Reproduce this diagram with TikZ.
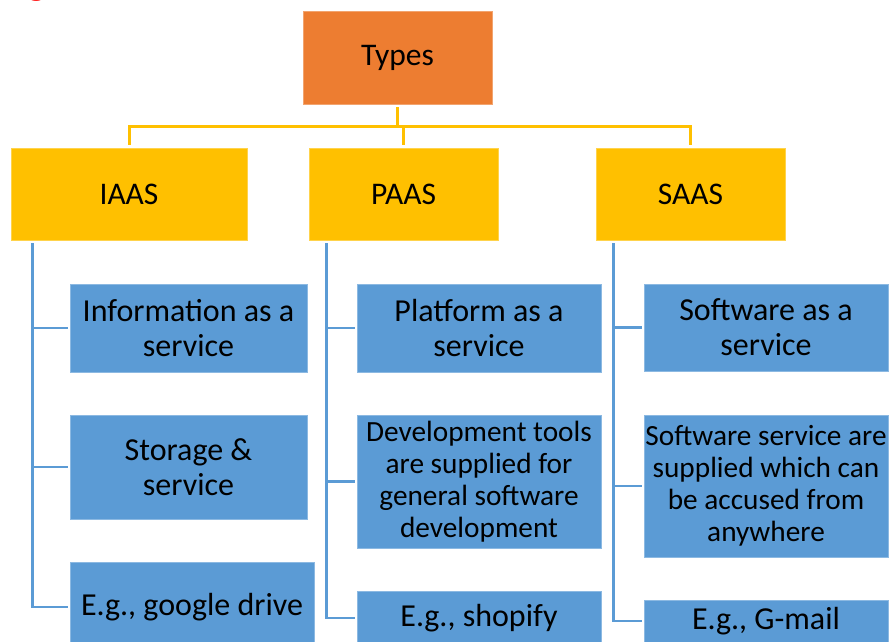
\documentclass[tikz,border=0pt]{standalone}
\usepackage{fontspec}
\setmainfont{Carlito}
\begin{document}
\begin{tikzpicture}[x=1pt,y=-1pt,
  typebox/.style={fill=orangeC,draw=orangeC!70!white,line width=0.8pt,inner sep=0pt,font=\fontsize{31.5}{35}\selectfont,text=black},
  catbox/.style={fill=yellowC,draw=yellowC!70!white,line width=0.8pt,inner sep=0pt,font=\fontsize{31.5}{35}\selectfont,text=black,minimum height=92pt},
  itembox/.style={fill=blueC,draw=blueC!70!white,line width=0.8pt,inner sep=0pt,align=center,font=\fontsize{32}{35}\selectfont,text=black,minimum width=244pt},
  smallitem/.style={itembox,font=\fontsize{29.3}{32}\selectfont},
  yline/.style={draw=yellowC,line width=3pt,shorten <=3pt,shorten >=3pt},
  bline/.style={draw=blueC,line width=2.6pt,shorten <=3pt,shorten >=2pt}]
\definecolor{orangeC}{HTML}{ED7D31}
\definecolor{yellowC}{HTML}{FFC000}
\definecolor{blueC}{HTML}{5B9BD5}
\useasboundingbox (0,0) rectangle (893,641);
\node[anchor=base west,text=red,font=\fontsize{40}{40}\selectfont,inner sep=0pt] (cut) at (27,-5.5) {g};
% top
\node[typebox,minimum width=189pt,minimum height=93pt] (types) at (397.5,57.5) {Types};
% categories
\node[catbox,minimum width=236pt] (iaas) at (129,194) {IAAS};
\node[catbox,minimum width=189pt] (paas) at (403.5,194) {PAAS};
\node[catbox,minimum width=189pt] (saas) at (690.5,194) {SAAS};
\coordinate (bus) at (0,126);
\draw[yline] (types.south) -- (types.south |- bus) -| (iaas.north);
\draw[yline] (types.south) -- (types.south |- bus) -| (paas.north);
\draw[yline] (types.south) -- (types.south |- bus) -| (saas.north);
% IAAS items
\node[itembox,minimum width=237pt,minimum height=88pt] (i1) at (188.5,328) {Information as a\\service};
\node[itembox,minimum width=237pt,minimum height=104pt] (i2) at (188.5,467) {Storage \&\\service};
\node[itembox,minimum height=90pt] (i3) at (192,607) {E.g., google drive};
% PAAS items
\node[itembox,minimum height=88pt] (p1) at (479,328) {Platform as a\\service};
\node[smallitem,minimum height=133pt] (p2) at (479,481.5) {Development tools\\are supplied for\\general software\\development};
\node[itembox,minimum height=54pt] (p3) at (479,618) {E.g., shopify};
% SAAS items
\node[itembox,minimum height=87pt] (s1) at (766,327.5) {Software as a\\service};
\node[smallitem,minimum height=142pt] (s2) at (766,486) {Software service are\\supplied which can\\be accused from\\anywhere};
\node[itembox,minimum height=42pt] (s3) at (766,621) {E.g., G-mail};
% blue connectors
\coordinate (ia) at ([xshift=22pt]iaas.south west);
\coordinate (pa) at ([xshift=18pt]paas.south west);
\coordinate (sa) at ([xshift=18pt]saas.south west);
\foreach \c in {i1,i2,i3} \draw[bline] (ia) |- (\c.west);
\foreach \c in {p1,p2,p3} \draw[bline] (pa) |- (\c.west);
\foreach \c in {s1,s2,s3} \draw[bline] (sa) |- (\c.west);
\end{tikzpicture}
\end{document}
